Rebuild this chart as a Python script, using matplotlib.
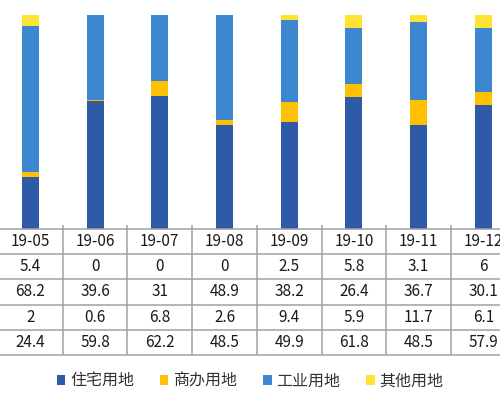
import numpy as np
import matplotlib.pyplot as plt

plt.rcParams['font.family'] = ['Noto Sans CJK SC', 'DejaVu Sans']

months = ['19-05', '19-06', '19-07', '19-08', '19-09', '19-10', '19-11', '19-12']
zhuzhai = [24.4, 59.8, 62.2, 48.5, 49.9, 61.8, 48.5, 57.9]
shangban = [2, 0.6, 6.8, 2.6, 9.4, 5.9, 11.7, 6.1]
gongye = [68.2, 39.6, 31, 48.9, 38.2, 26.4, 36.7, 30.1]
qita = [5.4, 0, 0, 0, 2.5, 5.8, 3.1, 6]
labels = ['住宅用地', '商办用地', '工业用地', '其他用地']
colors = ['#2E5AA7', '#FFC000', '#3D86D0', '#FFE333']

series = [zhuzhai, shangban, gongye, qita]
n = len(months)
x = np.arange(n)
W, H = 500, 400
step = 64.7
x0 = 30.4
xlim = (-x0 / step, (W - x0) / step)

fig = plt.figure(figsize=(5, 4), dpi=100)

# bar part
ax = fig.add_axes([0, (H - 229) / H, 1, (229 - 14.7) / H])
bottom = np.zeros(n)
for vals, lab, c in zip(series, labels, colors):
    ax.bar(x, vals, width=0.265, bottom=bottom, color=c, label=lab, linewidth=0)
    bottom += np.array(vals)
ax.set_xlim(*xlim)
ax.set_ylim(0, bottom.max())
ax.axis('off')

# data table under the bars
tb = fig.add_axes([0, (H - 355) / H, 1, (355 - 229) / H])
tb.set_xlim(*xlim)
tb.set_ylim(5, 0)
tb.axis('off')
grid = '#A0A0A0'
tb.hlines(np.arange(6), xlim[0], xlim[1], color=grid, lw=1.1, clip_on=False)
tb.vlines(x[:-1] + 0.5, 0, 5, color=grid, lw=1.1)
tb.vlines(x[:-1] + 0.5, -0.17, 0, color=grid, lw=1.1, clip_on=False)
rows = [months] + [s for s in series[::-1]]
for r, row in enumerate(rows):
    for i, v in enumerate(row):
        if r == 0:
            txt = v
        else:
            txt = ('%g' % v)
        tb.text(i, r + 0.5, txt, ha='center', va='center', fontsize=11, color='#1A1A1A')

handles, labs = ax.get_legend_handles_labels()
fig.legend(handles, labs, loc='center', bbox_to_anchor=(0.5, (H - 381) / H), ncol=4,
           frameon=False, fontsize=11.5, handlelength=0.55, handleheight=0.55,
           handletextpad=0.3, columnspacing=1.6, labelcolor='#333333')

fig.savefig('out.png', dpi=100)
